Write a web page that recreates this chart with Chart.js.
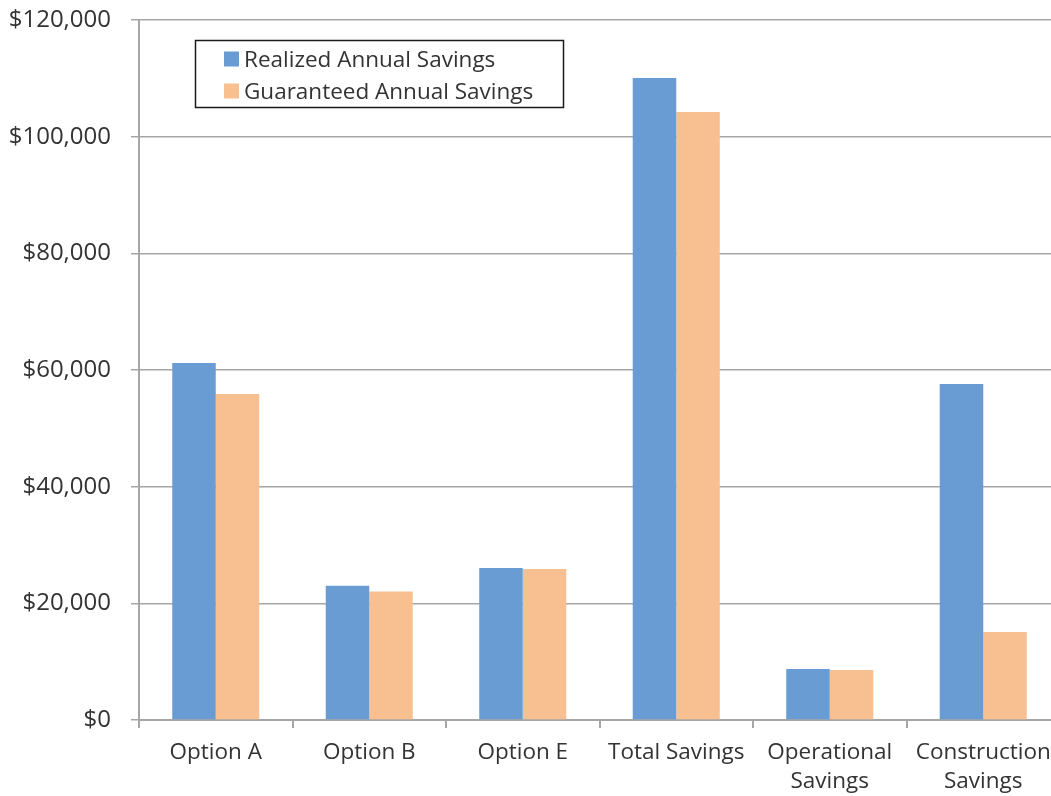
<!DOCTYPE html>
<html>
<head>
<meta charset="utf-8">
<script src="https://cdn.jsdelivr.net/npm/chart.js@4.4.0/dist/chart.umd.min.js"></script>
<style>
  html, body { margin: 0; padding: 0; background: #fff; overflow: hidden; }
  #wrap { width: 1062px; height: 796px; position: relative; }
</style>
</head>
<body>
<div id="wrap"><canvas id="chart"></canvas></div>
<script>
// Savings by measurement option
const categories = [
  'Option A',
  'Option B',
  'Option E',
  'Total Savings',
  ['Operational', 'Savings'],
  ['Construction', 'Savings']
];
const realizedSavings   = [61200, 23000, 26050, 110050, 8750, 57600];
const guaranteedSavings = [55900, 22050, 25900, 104250, 8570, 15100];
const yTickValues = [0, 20000, 40000, 60000, 80000, 100000, 120000];

const seriesNames = ['Realized Annual Savings', 'Guaranteed Annual Savings'];
const seriesColors = ['#6a9cd4', '#f8bf91'];
const textColor = '#333333';
const axisColor = '#a6a6a6';
const fontFamily = '"Open Sans", "Noto Sans", sans-serif';

// Boxed legend drawn inside the plot area, upper left
const boxedLegend = {
  id: 'boxedLegend',
  afterDraw(chart) {
    const ctx = chart.ctx;
    const x = 195, y = 40, w = 368, h = 67;
    ctx.save();
    ctx.fillStyle = '#ffffff';
    ctx.fillRect(x, y, w, h);
    ctx.strokeStyle = '#1a1a1a';
    ctx.lineWidth = 1.5;
    ctx.strokeRect(x + 0.5, y + 0.5, w, h);
    ctx.font = '22.5px ' + fontFamily;
    ctx.textBaseline = 'middle';
    chart.data.datasets.forEach((ds, i) => {
      const cy = y + 18.5 + i * 32;
      ctx.fillStyle = ds.backgroundColor;
      ctx.fillRect(x + 29, cy - 7, 15, 15);
      ctx.fillStyle = textColor;
      ctx.fillText(ds.label, x + 49, cy + 2.5);
    });
    ctx.restore();
  }
};

new Chart(document.getElementById('chart'), {
  type: 'bar',
  data: {
    labels: categories,
    datasets: [
      { label: seriesNames[0], data: realizedSavings, backgroundColor: seriesColors[0] },
      { label: seriesNames[1], data: guaranteedSavings, backgroundColor: seriesColors[1] }
    ]
  },
  options: {
    responsive: true,
    maintainAspectRatio: false,
    animation: false,
    datasets: { bar: { categoryPercentage: 0.567, barPercentage: 1.0 } },
    layout: { padding: { top: 20, right: 2, left: 0, bottom: 0 } },
    plugins: {
      legend: { display: false },
      tooltip: { enabled: false }
    },
    scales: {
      x: {
        offset: true,
        grid: {
          offset: true,
          drawOnChartArea: false,
          drawTicks: true,
          tickLength: 8,
          color: axisColor,
          lineWidth: 2
        },
        border: { color: axisColor, width: 2 },
        ticks: {
          color: textColor,
          font: { family: fontFamily, size: 22.5, lineHeight: 1.3 },
          padding: 10,
          maxRotation: 0,
          autoSkip: false
        },
        afterFit(scale) { scale.height = 76; }
      },
      y: {
        min: 0,
        max: 120000,
        afterBuildTicks(scale) {
          scale.ticks = yTickValues.map(v => ({ value: v }));
        },
        grid: {
          color: axisColor,
          lineWidth: 1.5,
          tickLength: 8
        },
        border: { color: axisColor, width: 2 },
        ticks: {
          color: textColor,
          font: { family: fontFamily, size: 24 },
          padding: 20,
          callback: v => '$' + Number(v).toLocaleString('en-US')
        },
        afterFit(scale) {
          scale.width = 139;
          scale.paddingTop = 0;
          scale.paddingBottom = 0;
        }
      }
    }
  },
  plugins: [boxedLegend]
});
</script>
</body>
</html>
